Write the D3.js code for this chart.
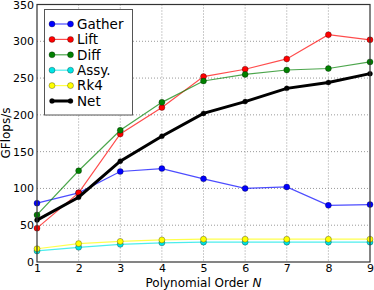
<!DOCTYPE html>
<html><head><meta charset="utf-8">
<script src="https://cdn.jsdelivr.net/npm/d3@7"></script>
<style>body{margin:0;background:#fff}svg{display:block;font-family:"DejaVu Sans",sans-serif}</style>
</head><body>
<svg id="c" width="374" height="290"></svg>
<script>
const orders = [1,2,3,4,5,6,7,8,9];
const gather = [80,94,123,127,113,100,102,77,78];
const lift   = [46,94,174,210,252,262,276,309,302];
const diff   = [64,124,179,217,246,255,261,263,272];
const assy   = [15,20,24,26,27,27,27,27,27];
const rk4    = [18,25,28,30,31,31,31,31,31];
const net    = [57,88,137,171,202,218,236,244,256];
const yTicks = [0,50,100,150,200,250,300,350];
const seriesNames = ["Gather","Lift","Diff","Assy.","Rk4","Net"];
const seriesColors = ["#0000ff","#ff0000","#008000","#00e5e5","#ffff00","#000000"];
const seriesData = [gather,lift,diff,assy,rk4,net];

const svg = d3.select("#c");
const L=37,R=370,T=4.5,B=262;
const x = d3.scaleLinear().domain([1,9]).range([L,R]);
const y = d3.scaleLinear().domain([0,350]).range([B,T]);

// grid
const g = svg.append("g");
g.selectAll(".gx").data(orders.slice(1,-1)).join("line")
 .attr("x1",d=>x(d)).attr("x2",d=>x(d)).attr("y1",T).attr("y2",B)
 .attr("stroke","#999").attr("stroke-width",1).attr("stroke-dasharray","1,2");
g.selectAll(".gy").data(yTicks.slice(1,-1)).join("line")
 .attr("y1",d=>y(d)).attr("y2",d=>y(d)).attr("x1",L).attr("x2",R)
 .attr("stroke","#999").attr("stroke-width",1).attr("stroke-dasharray","1,2");

// axes
const xa = svg.append("g").attr("transform",`translate(0,${B})`)
 .call(d3.axisBottom(x).tickValues(orders).tickFormat(d3.format("d")).tickSize(0).tickPadding(2.5));
const ya = svg.append("g").attr("transform",`translate(${L},0)`)
 .call(d3.axisLeft(y).tickValues(yTicks).tickSize(0).tickPadding(3));
[xa,ya].forEach(a=>{a.select(".domain").remove();a.selectAll("text").attr("font-family","DejaVu Sans").attr("font-size",11).attr("fill","#000");});

// series
const line = d3.line().x((d,i)=>x(orders[i])).y(d=>y(d));
seriesData.forEach((arr,k)=>{
  const isNet = k===5;
  svg.append("path").datum(arr).attr("d",line).attr("fill","none")
    .attr("stroke",seriesColors[k]).attr("stroke-opacity",isNet?1:0.7)
    .attr("stroke-width",isNet?3:1.2);
  svg.append("g").selectAll("circle").data(arr).join("circle")
    .attr("cx",(d,i)=>x(orders[i])).attr("cy",d=>y(d)).attr("r",isNet?2.5:3)
    .attr("fill",seriesColors[k]).attr("stroke","#000").attr("stroke-opacity",0.6).attr("stroke-width",0.5);
});

// frame
svg.append("rect").attr("x",L).attr("y",T).attr("width",R-L).attr("height",B-T)
  .attr("fill","none").attr("stroke","#333").attr("stroke-width",1.2);

// legend
const lg = svg.append("g");
lg.append("rect").attr("x",44.5).attr("y",9.5).attr("width",88).attr("height",105.5)
  .attr("fill","#fff").attr("stroke","#555").attr("stroke-width",1);
seriesNames.forEach((n,k)=>{
  const yy = 24 + k*15.4;
  const isNet = k===5;
  lg.append("line").attr("x1",52).attr("x2",70.5).attr("y1",yy).attr("y2",yy)
    .attr("stroke",seriesColors[k]).attr("stroke-opacity",isNet?1:0.7).attr("stroke-width",isNet?3:1.2);
  [52,70.5].forEach(cx=>lg.append("circle").attr("cx",cx).attr("cy",yy).attr("r",isNet?2.5:3)
    .attr("fill",seriesColors[k]).attr("stroke","#000").attr("stroke-opacity",0.6).attr("stroke-width",0.5));
  lg.append("text").attr("x",77).attr("y",yy).attr("dy","0.36em").attr("font-size",13.5).text(n);
});

// labels
svg.append("text").attr("transform","translate(10,133) rotate(-90)").attr("text-anchor","middle")
  .attr("font-size",12).text("GFlops/s");
const xl = svg.append("text").attr("x",203.5).attr("y",287).attr("text-anchor","middle").attr("font-size",12);
xl.append("tspan").text("Polynomial Order ");
xl.append("tspan").attr("font-style","italic").text("N");
</script>
</body></html>
